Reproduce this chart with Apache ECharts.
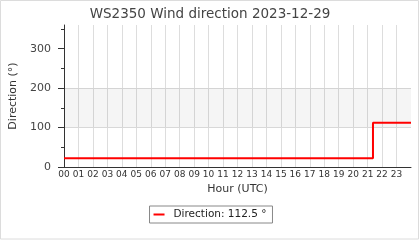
<!DOCTYPE html>
<html>
<head>
<meta charset="utf-8">
<script src="https://cdn.jsdelivr.net/npm/echarts@6/dist/echarts.min.js"></script>
<style>
html,body{margin:0;padding:0;background:#fff;}
#c{width:420px;height:240px;}
</style>
</head>
<body>
<div id="c"></div>
<script>
// Data
const chartTitle = 'WS2350 Wind direction 2023-12-29';
const hourTicks = ['00','01','02','03','04','05','06','07','08','09','10','11','12','13','14','15','16','17','18','19','20','21','22','23'];
const timeHours = [0, 21.37, 24];
const directionDeg = [22.5, 112.5, 112.5];
const seriesName = 'Direction: 112.5 °';
const yMajorTicks = [0, 100, 200, 300];
const yMinorTicks = [50, 150, 250, 350];
const bandRange = [100, 200];

const font = 'DejaVu Sans';
const chart = echarts.init(document.getElementById('c'), null, {renderer: 'canvas'});
const lineData = timeHours.map((t, i) => [t, directionDeg[i]]);

chart.setOption({
  animation: false,
  backgroundColor: '#fff',
  textStyle: {fontFamily: font},
  title: {
    text: chartTitle, left: 'center', top: 2,
    textStyle: {fontFamily: font, fontSize: 13.5, fontWeight: 'normal', color: '#444'}
  },
  graphic: [{
    type: 'rect', silent: true, z: -10,
    shape: {x: 0.5, y: 0.5, width: 418, height: 238.5},
    style: {fill: null, stroke: '#dcdcdc', lineWidth: 1}
  }],
  legend: {
    bottom: 17, left: 'center',
    data: [seriesName],
    borderColor: '#888', borderWidth: 1, borderRadius: 0,
    padding: [3, 6, 3, 4],
    itemWidth: 11, itemHeight: 2, itemGap: 10,
    icon: 'rect',
    textStyle: {fontFamily: font, fontSize: 10.5, color: '#222', padding: [0, 0, 0, 4]}
  },
  grid: {left: 64, right: 9, top: 25, bottom: 73, containLabel: false},
  xAxis: {
    type: 'value', min: 0, max: 24, interval: 1,
    name: 'Hour (UTC)', nameLocation: 'middle', nameGap: 12,
    nameTextStyle: {fontFamily: font, fontSize: 11, color: '#333'},
    axisLine: {show: true, lineStyle: {color: '#333', width: 1}},
    axisTick: {show: false},
    axisLabel: {
      margin: 3, fontSize: 9, color: '#333', fontFamily: font,
      showMaxLabel: false,
      formatter: v => (v >= 0 && v < hourTicks.length) ? hourTicks[v] : ''
    },
    splitLine: {show: true, showMaxLine: false, showMinLine: false, lineStyle: {color: '#dddddd', width: 1}}
  },
  yAxis: [{
    type: 'value', min: 0, max: 360, interval: 100,
    name: 'Direction (°)', nameLocation: 'middle', nameGap: 44,
    nameTextStyle: {fontFamily: font, fontSize: 11, color: '#333'},
    axisLine: {show: true, lineStyle: {color: '#333', width: 1}},
    axisTick: {show: true, length: 6, customValues: yMajorTicks, lineStyle: {color: '#333'}},
    axisLabel: {margin: 13, fontSize: 11, color: '#444', fontFamily: font, customValues: yMajorTicks},
    splitLine: {show: true, showMaxLine: false, lineStyle: {color: '#dddddd', width: 1}}
  }, {
    type: 'value', min: 0, max: 360, position: 'left',
    axisLine: {show: false},
    axisTick: {show: true, length: 3, customValues: yMinorTicks, lineStyle: {color: '#333'}},
    axisLabel: {show: false},
    splitLine: {show: false}
  }],
  series: [{
    name: seriesName,
    type: 'line',
    step: 'end',
    data: lineData,
    showSymbol: false,
    symbol: 'none',
    lineStyle: {color: '#ff0000', width: 2},
    itemStyle: {color: '#ff0000'},
    z: 5,
    markArea: {
      silent: true,
      itemStyle: {color: 'rgba(0,0,0,0.04)'},
      data: [[{yAxis: bandRange[0]}, {yAxis: bandRange[1]}]]
    }
  }]
});
</script>
</body>
</html>
